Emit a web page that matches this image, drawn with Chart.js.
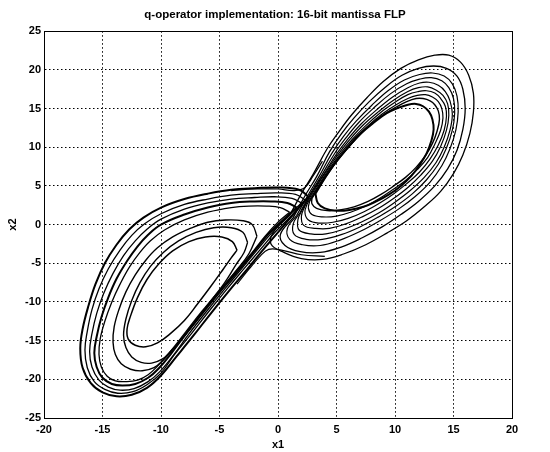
<!DOCTYPE html>
<html><head><meta charset="utf-8">
<script src="https://cdn.jsdelivr.net/npm/chart.js@4/dist/chart.umd.min.js"></script>
<style>html,body{margin:0;padding:0;background:#fff}</style>
</head><body>
<canvas id="c" width="550" height="452"></canvas>
<script>
const chartTitle = "q-operator implementation: 16-bit mantissa FLP";
const xLabel = "x1";
const yLabel = "x2";
const xTicks = [-20,-15,-10,-5,0,5,10,15,20];
const yTicks = [-25,-20,-15,-10,-5,0,5,10,15,20,25];

// Left wing loops (x1, x2), outermost first
const left1 = [[2.6,3.6],[1.8,4.5],[0,4.8],[-2,4.7],[-4,4.5],[-6,4.0],[-8,3.3],[-10,2.2],[-11.5,0.9],[-12.7,-0.6],[-13.8,-2.6],[-14.8,-5],[-15.6,-7.7],[-16.2,-10.5],[-16.7,-13.5],[-16.9,-16],[-16.7,-18.5],[-16,-20.5],[-15,-21.7],[-13.8,-22.2],[-12.5,-22],[-11.2,-21.1],[-10,-19.5],[-8.7,-17.1],[-7.2,-14.3],[-5.7,-11.4],[-4.2,-8.6],[-2.7,-5.9],[-1.3,-3.3],[0,-1],[1.3,1.3],[2.6,3.6]];
const left2 = [[2.3,3.2],[1.5,3.9],[0,4.1],[-2,4.0],[-4,3.8],[-6,3.3],[-8,2.6],[-10,1.4],[-11.4,0.1],[-12.5,-1.4],[-13.5,-3.3],[-14.5,-5.7],[-15.3,-8.3],[-15.9,-11],[-16.3,-13.8],[-16.5,-16.2],[-16.3,-18.5],[-15.7,-20.3],[-14.8,-21.3],[-13.7,-21.8],[-12.4,-21.6],[-11.2,-20.7],[-10,-19.2],[-8.9,-16.9],[-7.4,-14.1],[-5.9,-11.2],[-4.4,-8.4],[-2.9,-5.7],[-1.5,-3.2],[-0.2,-0.9],[1.1,1.1],[2.3,3.2]];
const left3 = [[2.0,2.8],[1.2,3.4],[-0.3,3.6],[-2,3.5],[-4,3.3],[-6,2.8],[-8,2.0],[-10,0.7],[-11.2,-0.6],[-12.2,-2.1],[-13.2,-4],[-14.1,-6.3],[-14.9,-8.9],[-15.5,-11.5],[-15.9,-14.1],[-16.1,-16.4],[-15.9,-18.4],[-15.3,-20.1],[-14.5,-21],[-13.5,-21.4],[-12.3,-21.2],[-11.1,-20.3],[-10.1,-19],[-8.9,-16.8],[-7.6,-14.1],[-6.1,-11.2],[-4.6,-8.4],[-3.1,-5.7],[-1.8,-3.3],[-0.5,-1.0],[0.8,1.0],[2.0,2.8]];
const left4 = [[1.6,2.2],[0.8,2.8],[-0.6,3.0],[-2,3.0],[-4,2.8],[-6,2.2],[-8,1.3],[-10,0],[-11.1,-1.3],[-12,-2.8],[-12.9,-4.7],[-13.8,-7],[-14.5,-9.4],[-15.1,-12],[-15.5,-14.5],[-15.7,-16.6],[-15.5,-18.4],[-15,-19.8],[-14.2,-20.6],[-13.3,-20.8],[-12.2,-20.6],[-11.1,-19.8],[-10.2,-18.6],[-9.1,-16.6],[-7.8,-14],[-6.3,-11.2],[-4.8,-8.4],[-3.3,-5.8],[-2,-3.4],[-0.8,-1.2],[0.5,0.7],[1.6,2.2]];
const left5 = [[1.0,1.6],[0.2,2.2],[-1,2.4],[-2.5,2.4],[-4,2.2],[-6,1.6],[-8,0.6],[-9.7,-0.7],[-10.9,-2.1],[-11.8,-3.6],[-12.7,-5.5],[-13.5,-7.7],[-14.2,-10],[-14.8,-12.5],[-15.2,-14.8],[-15.3,-16.8],[-15.1,-18.4],[-14.6,-19.6],[-13.9,-20.2],[-13,-20.3],[-12,-20.1],[-11.1,-19.4],[-10.3,-18.3],[-9.2,-16.4],[-7.9,-13.9],[-6.5,-11.2],[-5,-8.5],[-3.5,-5.9],[-2.2,-3.6],[-1.1,-1.5],[0,0.3],[1.0,1.6]];
const left6 = [[-1.8,-1.5],[-2.2,0],[-3,0.5],[-4.5,0.6],[-6,0.3],[-7.5,-0.5],[-9,-1.6],[-10.3,-3],[-11.3,-4.6],[-12.2,-6.5],[-13,-8.7],[-13.6,-11],[-14,-13.2],[-14.1,-15.2],[-13.9,-16.8],[-13.4,-18],[-12.6,-18.7],[-11.6,-18.9],[-10.6,-18.5],[-9.8,-17.5],[-8.8,-15.8],[-7.6,-13.5],[-6.3,-11],[-4.9,-8.4],[-3.6,-6],[-2.5,-3.8],[-1.8,-1.5]];
const left7 = [[-2.6,-2.3],[-3,-1],[-4,-0.4],[-5.5,-0.4],[-7,-1],[-8.5,-2.1],[-9.8,-3.6],[-10.9,-5.4],[-11.8,-7.5],[-12.5,-9.8],[-13,-12.2],[-13.2,-14.3],[-13,-15.9],[-12.5,-17.1],[-11.7,-17.8],[-10.8,-17.9],[-9.9,-17.4],[-9.2,-16.4],[-8.2,-14.8],[-7,-12.5],[-5.8,-10],[-4.6,-7.6],[-3.6,-5.2],[-2.9,-3.6],[-2.6,-2.3]];
const left8 = [[-3.5,-3.3],[-3.9,-2.2],[-4.8,-1.6],[-6.2,-1.6],[-7.6,-2.2],[-9,-3.4],[-10.2,-5.1],[-11.2,-7.1],[-12,-9.4],[-12.6,-11.8],[-12.9,-13.5],[-12.8,-14.8],[-12.2,-15.6],[-11.3,-15.8],[-10.3,-15.3],[-9.2,-14.1],[-8,-12.4],[-6.9,-10.3],[-5.8,-8.1],[-4.7,-5.8],[-4,-4.3],[-3.5,-3.3]];

// Right wing loops (x1, x2), outermost first
const right1 = [[1.0,1.2],[2,4],[3,6.5],[4.2,9.8],[5.2,12],[6.3,14.2],[7.6,16.4],[9,18.5],[10.5,20.2],[12,21.3],[13.4,21.9],[14.6,21.9],[15.6,21],[16.3,19.3],[16.7,17],[16.7,14.5],[16.4,11.8],[15.8,9],[15,6.6],[13.9,4.3],[12.5,2.3],[11,0.5],[9.3,-1.1],[7.5,-2.6],[5.6,-3.8],[3.8,-4.5],[2,-4.4],[0.5,-3.6],[-0.6,-2.5],[-0.4,-1],[1.0,1.2]];
const right2 = [[1.3,0.9],[2.3,3.7],[3.3,6.2],[4.4,9.4],[5.4,11.7],[6.5,13.8],[7.8,15.9],[9.2,17.8],[10.6,19.3],[12,20.2],[13.3,20.5],[14.4,20.2],[15.3,19.2],[15.8,17.5],[16,15],[15.8,12.3],[15.3,9.6],[14.5,7.2],[13.4,5],[12,3],[10.5,1.3],[8.9,-0.3],[7.2,-1.7],[5.4,-2.9],[3.6,-3.6],[1.9,-3.5],[0.6,-2.7],[0.2,-1.3],[1.3,0.9]];
const right3 = [[1.6,1.2],[2.6,3.9],[3.5,6.2],[4.6,9.2],[5.6,11.4],[6.7,13.4],[8,15.4],[9.4,17.3],[10.8,18.7],[12.1,19.4],[13.2,19.6],[14.2,19.2],[14.9,18.2],[15.3,16.6],[15.4,14.6],[15.2,12.2],[14.7,9.8],[14,7.6],[13,5.5],[11.7,3.6],[10.3,2],[8.7,0.5],[7,-0.9],[5.3,-2],[3.6,-2.7],[2.1,-2.6],[1,-1.9],[0.8,-0.5],[1.6,1.2]];
const right4 = [[1.9,1.6],[2.8,4.1],[3.7,6.3],[4.8,9.1],[5.8,11.2],[6.9,13.2],[8.2,15.1],[9.6,16.9],[11,18.2],[12.1,18.8],[13.1,19],[14,18.6],[14.6,17.7],[15,16.3],[15.1,14.4],[14.9,12.2],[14.4,9.9],[13.7,7.8],[12.7,5.8],[11.5,4],[10.1,2.4],[8.6,1],[7,-0.3],[5.4,-1.3],[3.8,-1.9],[2.4,-1.9],[1.4,-1.3],[1.3,0.1],[1.9,1.6]];
const right5 = [[2.1,2.0],[3,4.4],[3.9,6.5],[5,9.1],[6,11.1],[7.1,13],[8.4,14.8],[9.8,16.5],[11.1,17.7],[12.1,18.3],[12.9,18.4],[13.7,18],[14.3,17.2],[14.7,16],[14.9,14.3],[14.7,12.2],[14.2,10],[13.5,8],[12.5,6.1],[11.3,4.4],[10,2.9],[8.6,1.5],[7.1,0.3],[5.6,-0.6],[4.1,-1.2],[2.8,-1.2],[1.8,-0.7],[1.7,0.6],[2.1,2.0]];
const right6 = [[2.3,2.4],[3.2,4.7],[4.1,6.8],[5.2,9.2],[6.2,11.1],[7.3,12.9],[8.6,14.6],[9.9,16.1],[11.1,17.2],[12,17.7],[12.8,17.8],[13.5,17.4],[14.1,16.7],[14.5,15.6],[14.6,14.1],[14.4,12.2],[13.9,10.1],[13.2,8.2],[12.2,6.4],[11.1,4.8],[9.9,3.4],[8.6,2.1],[7.2,1],[5.8,0.1],[4.4,-0.5],[3.2,-0.5],[2.2,-0.1],[2,1.1],[2.3,2.4]];
const right7 = [[2.5,2.7],[3.4,4.9],[4.3,7],[5.4,9.3],[6.4,11.1],[7.5,12.8],[8.7,14.4],[10,15.8],[11.1,16.8],[12,17.2],[12.7,17.3],[13.4,17],[13.9,16.3],[14.3,15.3],[14.4,14],[14.2,12.2],[13.7,10.3],[13,8.5],[12.1,6.8],[11,5.3],[9.9,4],[8.7,2.8],[7.4,1.7],[6,0.8],[4.7,0.3],[3.5,0.2],[2.6,0.6],[2.3,1.6],[2.5,2.7]];
const right8 = [[2.7,3.0],[3.6,5.2],[4.5,7.2],[5.6,9.4],[6.6,11.2],[7.7,12.8],[8.9,14.3],[10.1,15.5],[11.1,16.3],[11.9,16.7],[12.6,16.8],[13.2,16.5],[13.7,15.9],[14,15],[14.1,13.8],[13.9,12.2],[13.4,10.4],[12.8,8.7],[11.9,7.1],[10.9,5.7],[9.8,4.5],[8.7,3.4],[7.5,2.4],[6.2,1.6],[5,1.1],[3.8,1],[2.9,1.3],[2.6,2.1],[2.7,3.0]];
const right9 = [[2.9,3.4],[3.8,5.5],[4.7,7.5],[5.8,9.6],[6.8,11.3],[7.9,12.9],[9,14.2],[10.1,15.2],[11,15.9],[11.8,16.3],[12.4,16.3],[13,16],[13.4,15.5],[13.7,14.7],[13.8,13.6],[13.6,12.1],[13.2,10.5],[12.6,8.9],[11.8,7.4],[10.9,6.1],[9.9,5],[8.8,3.9],[7.7,3],[6.5,2.3],[5.3,1.9],[4.2,1.8],[3.3,2.1],[2.9,2.7],[2.9,3.4]];
const right10 = [[3.2,4.0],[4,6],[5,8.2],[6,10],[7.1,11.8],[8.2,13.2],[9.3,14.4],[10.3,15.1],[11.1,15.5],[11.8,15.6],[12.4,15.3],[12.9,14.6],[13.2,13.6],[13.3,12.3],[13.1,10.8],[12.7,9.2],[12.1,7.7],[11.4,6.3],[10.5,5],[9.5,3.9],[8.4,3],[7.3,2.3],[6.1,1.9],[5,1.8],[4,2.1],[3.4,2.8],[3.2,4.0]];

// Crossings between the wings near the origin
const crossLR = [[-4,4.4],[-2,4.6],[0,4.6],[1.4,4.4],[2.3,4.8],[3,6.3],[3.8,8.2]];
const crossRL = [[4,-4.1],[2,-3.9],[0.3,-3.3],[-0.8,-3.2],[-1.6,-4.2],[-2.5,-5.8],[-3.5,-7.7]];

const curves = [
  {pts:left1, w:2.0},{pts:left2, w:1.3},{pts:left3, w:1.3},{pts:left4, w:2.0},
  {pts:left5, w:1.3},{pts:left6, w:1.4},{pts:left7, w:1.4},{pts:left8, w:1.5},
  {pts:right1, w:1.3},{pts:right2, w:1.3},{pts:right3, w:1.2},{pts:right4, w:1.2},
  {pts:right5, w:1.2},{pts:right6, w:1.2},{pts:right7, w:1.2},{pts:right8, w:1.2},
  {pts:right9, w:1.4},{pts:right10, w:2.0},
  {pts:crossLR, w:1.2},{pts:crossRL, w:1.2}
];

const datasets = curves.map(c => ({
  data: c.pts.map(p => ({x:p[0], y:p[1]})),
  borderColor:'#000', borderWidth:c.w, pointRadius:0, tension:0.4, fill:false
}));

const FONT = "'Liberation Sans', Arial, Helvetica, sans-serif";
const gridDash = [1.5, 2.5];

new Chart(document.getElementById('c'), {
  type:'line',
  data:{datasets},
  options:{
    responsive:false, devicePixelRatio:1, animation:false,
    layout:{padding:0},
    plugins:{
      legend:{display:false}, tooltip:{enabled:false},
      title:{display:true, text:chartTitle, color:'#000',
        font:{family:FONT, size:11.5, weight:'bold'}, padding:{top:8, bottom:2}}
    },
    scales:{
      x:{type:'linear', position:'bottom', min:-20, max:20,
        afterBuildTicks:s=>{s.ticks = xTicks.map(v=>({value:v}));},
        afterFit:s=>{s.height = 34;},
        ticks:{color:'#000', font:{family:FONT, size:11, weight:'bold'}, padding:5, maxRotation:0, autoSkip:false},
        grid:{color:'#000', lineWidth:1, drawTicks:false},
        border:{display:true, color:'#000', width:1, dash:gridDash},
        title:{display:true, text:xLabel, color:'#000', font:{family:FONT, size:11, weight:'bold'}, padding:{top:0,bottom:0}}
      },
      xTop:{type:'linear', position:'top', min:-20, max:20, display:true,
        afterFit:s=>{s.height = 7.4;},
        ticks:{display:false}, grid:{display:false, drawTicks:false},
        border:{display:true, color:'#000', width:1}
      },
      y:{type:'linear', position:'left', min:-25, max:25,
        afterBuildTicks:s=>{s.ticks = yTicks.map(v=>({value:v}));},
        afterFit:s=>{s.width = 44;},
        ticks:{color:'#000', font:{family:FONT, size:11, weight:'bold'}, padding:3, autoSkip:false},
        grid:{color:'#000', lineWidth:1, drawTicks:false},
        border:{display:true, color:'#000', width:1, dash:gridDash},
        title:{display:true, text:yLabel, color:'#000', font:{family:FONT, size:11, weight:'bold'}, padding:{top:6,bottom:0}}
      },
      yRight:{type:'linear', position:'right', min:-25, max:25, display:true,
        afterFit:s=>{s.width = 38;},
        ticks:{display:false}, grid:{display:false, drawTicks:false},
        border:{display:true, color:'#000', width:1}
      }
    }
  }
});
</script>
</body></html>
